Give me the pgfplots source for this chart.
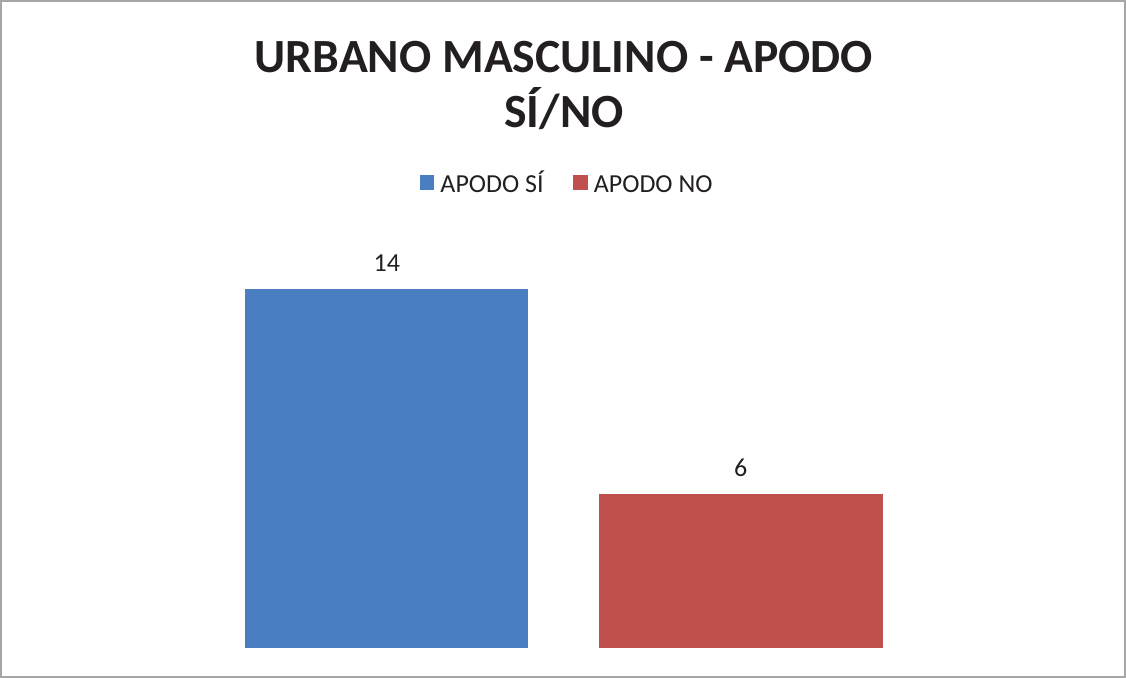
\documentclass[border=0pt]{standalone}
\usepackage{fontspec}
\setmainfont{Carlito}
\usepackage{pgfplots}
\pgfplotsset{compat=1.18}
\definecolor{barblue}{HTML}{4A7EC0}
\definecolor{barred}{HTML}{C0504D}
\definecolor{txt}{HTML}{231F20}
\definecolor{frame}{HTML}{A6A6A6}
\begin{document}
\begin{tikzpicture}
\begin{axis}[
  at={(0,0)}, anchor=south west,
  scale only axis,
  width=844.5pt, height=507.75pt,
  xmin=0, xmax=1126,
  ymin=-1.1309, ymax=25.270,
  axis line style={frame, line width=1.2pt},
  xtick=\empty, ytick=\empty,
  clip=false,
  /pgf/number format/assume math mode=true,
  legend columns=2,
  legend style={draw=none, fill=none, at={(axis cs:569,18.13)}, anchor=center,
    font=\fontsize{19.5}{22}\selectfont\color{txt},
    nodes={inner xsep=4.5pt, inner ysep=0pt, text height=13pt, text depth=0pt},
    /tikz/every even column/.append style={column sep=17.5pt},
    inner sep=0pt},
  legend image code/.code={\fill[#1] (0pt,-4.8pt) rectangle (11.25pt,6.45pt);},
]
\addplot[ybar, bar shift=0pt, bar width=283, fill=barblue, draw=none,
  nodes near coords,
  every node near coord/.append style={font=\fontsize{19.5}{22}\selectfont, text=txt, anchor=base, yshift=13.5pt, inner sep=0pt, text height=, text depth=}]
  coordinates {(386.5,14)};
\addlegendentry{APODO SÍ}
\addplot[ybar, bar shift=0pt, bar width=284, fill=barred, draw=none,
  nodes near coords,
  every node near coord/.append style={font=\fontsize{19.5}{22}\selectfont, text=txt, anchor=base, yshift=13.5pt, inner sep=0pt, text height=, text depth=}]
  coordinates {(741,6)};
\addlegendentry{APODO NO}
\node[anchor=base, font=\fontsize{35.8}{42}\selectfont\bfseries, text=txt, inner sep=0pt] at (axis cs:564,22.462) {URBANO MASCULINO - APODO};
\node[anchor=base, font=\fontsize{35.8}{42}\selectfont\bfseries, text=txt, inner sep=0pt] at (axis cs:564,20.317) {SÍ/NO};
\end{axis}
\end{tikzpicture}
\end{document}
